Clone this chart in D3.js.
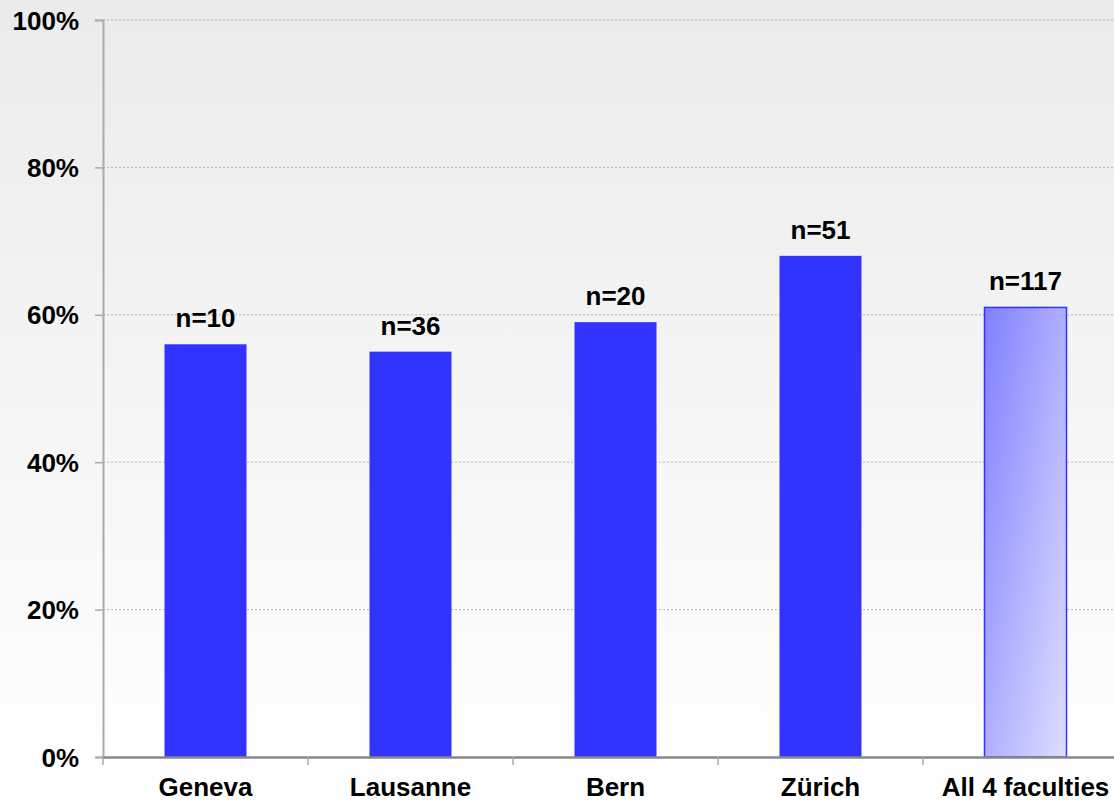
<!DOCTYPE html>
<html>
<head>
<meta charset="utf-8">
<script src="https://cdn.jsdelivr.net/npm/d3@7"></script>
<style>
  html, body { margin: 0; padding: 0; }
  body { width: 1114px; height: 800px; overflow: hidden; }
</style>
</head>
<body>
<div id="chart"></div>
<script>
// dados do gráfico
const categorias = ['Geneva', 'Lausanne', 'Bern', 'Zürich', 'All 4 faculties'];
const valores = [56, 55, 59, 68, 61];
const rotulos = ['n=10', 'n=36', 'n=20', 'n=51', 'n=117'];
const ticksY = [0, 20, 40, 60, 80, 100];

const W = 1114, H = 800;
const margin = { top: 20, right: -14, bottom: 43, left: 103 };
const fonte = 'Arial, "Liberation Sans", sans-serif';

const svg = d3.select('#chart').append('svg')
  .attr('width', W)
  .attr('height', H);

const defs = svg.append('defs');
const bg = defs.append('linearGradient').attr('id', 'bg')
  .attr('x1', 0).attr('y1', 0).attr('x2', 0).attr('y2', 1);
bg.append('stop').attr('offset', '0%').attr('stop-color', '#ebebeb');
bg.append('stop').attr('offset', '100%').attr('stop-color', '#ffffff');

const barGrad = defs.append('linearGradient').attr('id', 'barGrad')
  .attr('x1', 0).attr('y1', 0).attr('x2', 1).attr('y2', 1);
barGrad.append('stop').attr('offset', '0%').attr('stop-color', '#8080ff');
barGrad.append('stop').attr('offset', '100%').attr('stop-color', '#dedeff');

svg.append('rect').attr('width', W).attr('height', H).attr('fill', 'url(#bg)');

const x = d3.scaleBand()
  .domain(categorias)
  .range([margin.left, W - margin.right])
  .padding(0);

const y = d3.scaleLinear()
  .domain([0, 100])
  .range([H - margin.bottom, margin.top]);

// grid horizontal pontilhado
svg.append('g')
  .selectAll('line')
  .data(ticksY.filter(d => d > 0))
  .enter()
  .append('line')
  .attr('x1', margin.left)
  .attr('x2', W)
  .attr('y1', d => y(d))
  .attr('y2', d => y(d))
  .attr('stroke', '#b4b4b4')
  .attr('stroke-width', 1)
  .attr('stroke-dasharray', '2,2');

// eixo Y
const yAxisG = svg.append('g')
  .attr('transform', `translate(${margin.left},0)`)
  .call(d3.axisLeft(y).tickValues(ticksY).tickFormat(d => d + '%').tickSize(8).tickPadding(16));
yAxisG.select('.domain').attr('stroke', '#aaaaaa').attr('stroke-width', 2);
yAxisG.selectAll('.tick line').attr('stroke', '#aaaaaa').attr('stroke-width', 1.5);
yAxisG.selectAll('text')
  .attr('dy', '0.35em')
  .style('font-family', fonte)
  .style('font-size', '26px')
  .style('font-weight', 'bold')
  .style('fill', '#000');

// barras
const ultima = categorias[categorias.length - 1];
const bw = x.bandwidth() * 0.4;
svg.selectAll('rect.bar')
  .data(categorias)
  .enter()
  .append('rect')
  .attr('class', 'bar')
  .attr('x', (d) => x(d) + (x.bandwidth() - bw) / 2)
  .attr('y', (d, i) => y(valores[i]))
  .attr('width', bw)
  .attr('height', (d, i) => y(0) - y(valores[i]))
  .attr('fill', d => d === ultima ? 'url(#barGrad)' : '#3333ff')
  .attr('stroke', d => d === ultima ? '#3333ff' : 'none')
  .attr('stroke-width', 1.5);

// rótulos n=
svg.selectAll('text.value')
  .data(categorias)
  .enter()
  .append('text')
  .attr('class', 'value')
  .attr('x', d => x(d) + x.bandwidth() / 2)
  .attr('y', (d, i) => y(valores[i]) - 17)
  .attr('text-anchor', 'middle')
  .text((d, i) => rotulos[i])
  .style('font-family', fonte)
  .style('font-size', '26px')
  .style('font-weight', 'bold')
  .style('fill', '#000');

// eixo X
const xAxisG = svg.append('g')
  .attr('transform', `translate(0,${y(0)})`)
  .call(d3.axisBottom(x).tickSize(0).tickPadding(0));
xAxisG.select('.domain').attr('stroke', '#888888').attr('stroke-width', 2.5);
xAxisG.selectAll('text')
  .attr('y', 39)
  .attr('dy', '0')
  .style('font-family', fonte)
  .style('font-size', '26px')
  .style('font-weight', 'bold')
  .style('fill', '#000');

// marcas entre categorias
svg.append('g')
  .selectAll('line')
  .data(categorias)
  .enter()
  .append('line')
  .attr('x1', d => x(d))
  .attr('x2', d => x(d))
  .attr('y1', y(0))
  .attr('y2', y(0) + 8)
  .attr('stroke', '#aaaaaa')
  .attr('stroke-width', 1.5);
</script>
</body>
</html>
